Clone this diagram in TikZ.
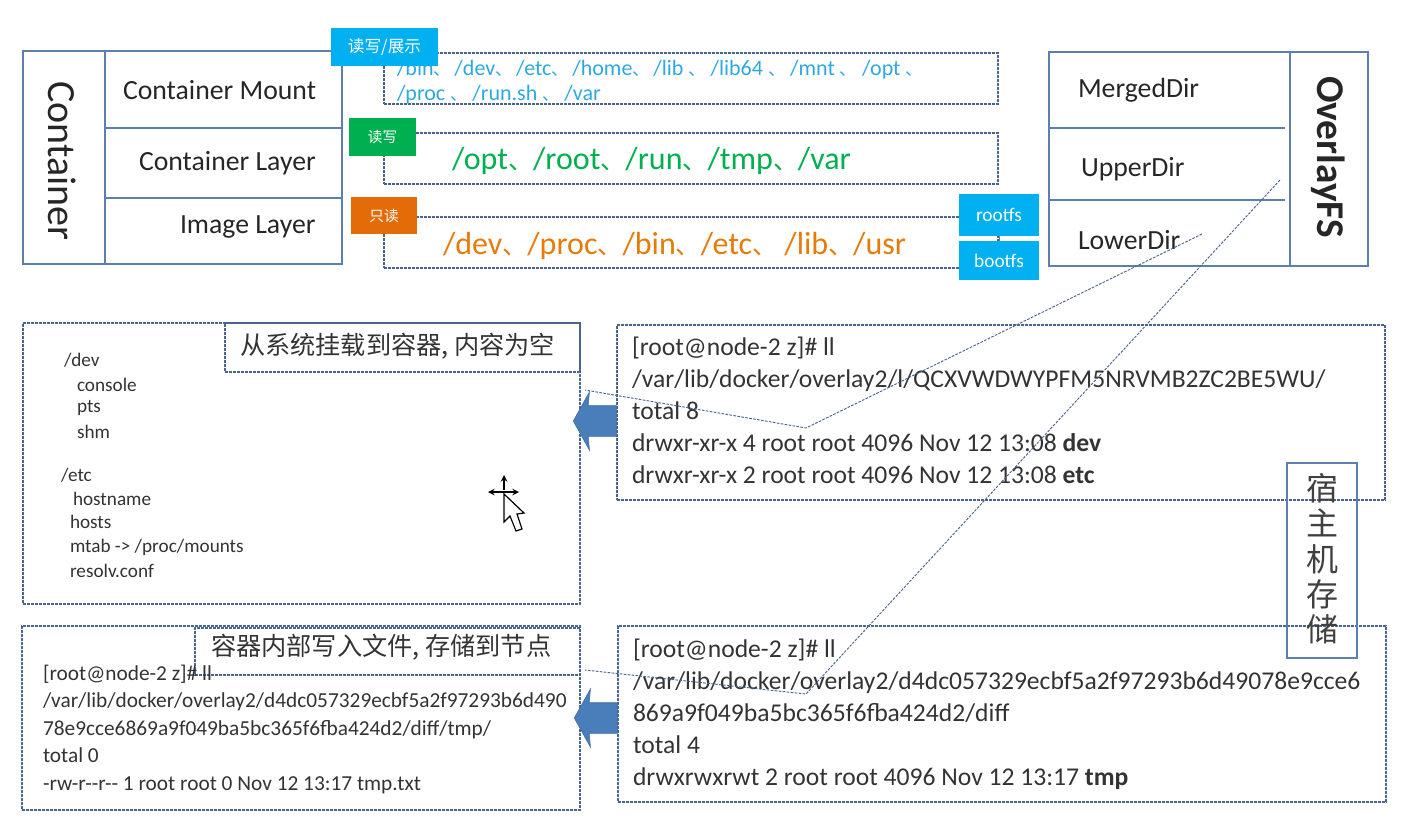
\documentclass[tikz,border=0pt]{standalone}
\usepackage{fontspec}
\setmainfont{Carlito}
\newfontfamily\cjk{Noto Sans CJK SC}
\newfontfamily\cjkmark[Scale=0.78]{Noto Sans CJK SC}
\usetikzlibrary{shapes.arrows}
\newcommand{\dunhao}{{\cjkmark 、}}
\def\px{0.75pt}
\begin{document}
\begin{tikzpicture}[x=0.75pt, y=-0.75pt, every node/.style={inner sep=0pt, outer sep=0pt}]
    \tikzstyle{cell} = [draw=tablecol, line width=1pt, anchor=north west, align=right]
    \tikzstyle{dirname} = [anchor=west, font=\fontsize{20.8pt}{24pt}\selectfont, text=black!85]
    \tikzstyle{dashbox} = [draw=dashcol, dash pattern=on 2pt off 1pt, line width=0.8pt, anchor=north west]
    \tikzstyle{tag} = [anchor=north west, text=white, align=center]
    \tikzstyle{term} = [anchor=north west, align=left, text=black!80, font=\fontsize{19.2pt}{24pt}\selectfont]
    \tikzstyle{small} = [anchor=west, text=black!80, font=\fontsize{14.4pt}{17pt}\selectfont]
    \tikzstyle{caption} = [anchor=west, text=black!80, font=\cjk\fontsize{18.9pt}{22pt}\selectfont]
    \tikzstyle{blockarrow} = [single arrow, fill=arrowcol, draw=arrowcol!85!black, shape border rotate=180, inner ysep=15*\px, inner xsep=0pt, minimum height=43*\px, single arrow head extend=14*\px, single arrow tip angle=122, single arrow head indent=1pt]
    \tikzstyle{link} = [draw=dashcol, dash pattern=on 2pt off 1pt, line width=0.7pt]
    \definecolor{tablecol}{HTML}{5B7FB0}
    \definecolor{dashcol}{HTML}{4A6491}
    \definecolor{arrowcol}{HTML}{4A7EBB}
    \definecolor{bluetag}{HTML}{00B0F0}
    \definecolor{greentag}{HTML}{00B050}
    \definecolor{orangetag}{HTML}{E36C09}
    \definecolor{bluetext}{HTML}{2EA9E0}
    \useasboundingbox (0,0) rectangle (1408,822);

    % container table
    \node [cell, minimum width=82*\px, minimum height=213*\px] (container) at (23,51) {};
    \node [rotate=-90, font=\fontsize{30pt}{34pt}\selectfont, text=black!85] (containerlabel) at (62,161) {Container};
    \node [cell, minimum width=237*\px, minimum height=77*\px] (cmount) at (105,51) {};
    \node [cell, minimum width=237*\px, minimum height=70*\px] (clayer) at (105,128) {};
    \node [cell, minimum width=237*\px, minimum height=66*\px] (cimage) at (105,198) {};
    \node [dirname] (cmounttext) at (123,90) {Container Mount};
    \node [dirname] (clayertext) at (139,163) {Container Layer};
    \node [dirname] (cimagetext) at (180,227) {Image Layer};

    % dashed rows
    \node [dashbox, minimum width=614*\px, minimum height=51*\px] (rowmount) at (384,53) {};
    \node [dashbox, minimum width=614*\px, minimum height=51*\px] (rowlayer) at (384,133) {};
    \node [dashbox, minimum width=614*\px, minimum height=51*\px] (rowimage) at (384,217) {};
    \node [anchor=west, text=bluetext, font=\fontsize{16.5pt}{20pt}\selectfont] (mountline1) at (397,70) {/bin\dunhao\,/dev\dunhao\,/etc\dunhao\,/home\dunhao\,/lib \dunhao\ /lib64 \dunhao\ /mnt \dunhao\ /opt \dunhao};
    \node [anchor=west, text=bluetext, font=\fontsize{16.5pt}{20pt}\selectfont] (mountline2) at (397,95) {/proc \dunhao\ /run.sh \dunhao\ /var};
    \node [anchor=west, text=greentag, font=\fontsize{24pt}{28pt}\selectfont] (layerline) at (452,161) {/opt\dunhao /root\dunhao /run\dunhao /tmp\dunhao /var};
    \node [anchor=west, text=orangetag!90!yellow, font=\fontsize{24pt}{28pt}\selectfont] (imageline) at (443,246) {/dev\dunhao /proc\dunhao /bin\dunhao /etc\dunhao\ /lib\dunhao /usr};

    % coloured tags
    \node [tag, fill=bluetag, minimum width=107*\px, minimum height=38*\px, font=\cjk\fontsize{12.5pt}{15pt}\selectfont] (tagmount) at (331,28) {读写/展示};
    \node [tag, fill=greentag, minimum width=67*\px, minimum height=38*\px, font=\cjk\fontsize{11pt}{14pt}\selectfont] (taglayer) at (349,118) {读写};
    \node [tag, fill=orangetag, minimum width=66*\px, minimum height=37*\px, font=\cjk\fontsize{11pt}{14pt}\selectfont] (tagimage) at (351,197) {只读};
    \node [tag, fill=bluetag, minimum width=80*\px, minimum height=42*\px, font=\fontsize{14.5pt}{17pt}\selectfont] (rootfs) at (959,194) {rootfs};
    \node [tag, fill=bluetag, minimum width=80*\px, minimum height=39*\px, font=\fontsize{14.5pt}{17pt}\selectfont] (bootfs) at (959,241) {bootfs};
    \draw [tablecol] (rootfs) -- (bootfs);

    % overlayfs table
    \node [cell, minimum width=241*\px, minimum height=214*\px] (overlaybody) at (1049,52) {};
    \node [cell, minimum width=78*\px, minimum height=214*\px] (overlay) at (1290,52) {};
    \node [rotate=-90, font=\bfseries\fontsize{29.5pt}{34pt}\selectfont, text=black!85] (overlaylabel) at (1328,157) {OverlayFS};
    \node [anchor=north west, minimum width=236*\px, minimum height=76*\px] (merged) at (1049,52) {};
    \node [anchor=north west, minimum width=236*\px, minimum height=72*\px] (upper) at (1049,128) {};
    \draw [tablecol, line width=1pt] (merged.south west) -- (merged.south east);
    \draw [tablecol, line width=1pt] (upper.south west) -- (upper.south east);
    \node [dirname] (mergedtext) at (1078,90) {MergedDir};
    \node [dirname] (uppertext) at (1081,169) {UpperDir};
    \node [dirname] (lowertext) at (1078,240) {LowerDir};

    % mounted from the system
    \node [dashbox, minimum width=557*\px, minimum height=281*\px] (sysbox) at (23,323) {};
    \node [dashbox, minimum width=355*\px, minimum height=49*\px] (syscaption) at (225,323) {};
    \node [caption] (syscaptiontext) at (240,346) {从系统挂载到容器, 内容为空};
    \node [small] (fdev) at (64,360) {/dev};
    \node [small] (fconsole) at (77,385) {console};
    \node [small] (fpts) at (77,408) {pts};
    \node [small] (fshm) at (77,432) {shm};
    \node [small] (fetc) at (61,475) {/etc};
    \node [small] (fhostname) at (73,499) {hostname};
    \node [small] (fhosts) at (70,522) {hosts};
    \node [small] (fmtab) at (70,547) {mtab -> /proc/mounts};
    \node [small] (fresolv) at (70,571) {resolv.conf};

    % mouse cursor
    \draw [line width=1.2pt, -stealth] (504,490) -- (504,475);
    \draw [line width=1.2pt, -stealth] (504,492) -- (488,492);
    \draw [line width=1.2pt, -stealth] (504,492) -- (519,492);
    \draw [fill=white, line width=0.9pt] (504,494) -- (504,522) -- (510,516) -- (516,531) -- (522,529) -- (517,514) -- (524,513) -- cycle;

    % host directories
    \node [dashbox, minimum width=768*\px, minimum height=175*\px] (hostup) at (617,325) {};
    \node [term] (hostuptext) at (632,337) {[root@node-2 z]\# ll\\/var/lib/docker/overlay2/l/QCXVWDWYPFM5NRVMB2ZC2BE5WU/\\total 8\\drwxr-xr-x 4 root root 4096 Nov 12 13:08 \textbf{dev}\\drwxr-xr-x 2 root root 4096 Nov 12 13:08 \textbf{etc}};
    \node [blockarrow] (arrowup) at (599,421) {};

    % written inside the container
    \node [dashbox, minimum width=558*\px, minimum height=184*\px] (writebox) at (22,626) {};
    \node [dashbox, minimum width=385*\px, minimum height=47*\px] (writecaption) at (195,628) {};
    \node [caption] (writecaptiontext) at (211,647) {容器内部写入文件, 存储到节点};
    \node [term, font=\fontsize{16pt}{20.6pt}\selectfont] (writetext) at (43,665) {[root@node-2 z]\# ll\\/var/lib/docker/overlay2/d4dc057329ecbf5a2f97293b6d490\\78e9cce6869a9f049ba5bc365f6fba424d2/diff/tmp/\\total 0\\-rw-r-{}-r-{}- 1 root root 0 Nov 12 13:17 tmp.txt};
    \node [dashbox, minimum width=768*\px, minimum height=176*\px] (hostdown) at (618,626) {};
    \node [term] (hostdowntext) at (633,639) {[root@node-2 z]\# ll\\/var/lib/docker/overlay2/d4dc057329ecbf5a2f97293b6d49078e9cce6\\869a9f049ba5bc365f6fba424d2/diff\\total 4\\drwxrwxrwt 2 root root 4096 Nov 12 13:17 \textbf{tmp}};
    \node [blockarrow] (arrowdown) at (600,718) {};

    % host storage
    \node [cell, minimum width=70*\px, minimum height=195*\px] (hostbox) at (1287,463) {};
    \node [align=center, text=black!75, font=\cjk\fontsize{24pt}{26.5pt}\selectfont] (hosttext) at (1322,559) {宿\\主\\机\\存\\储};

    % dashed links
    \coordinate (lowerend) at (1202,234);
    \coordinate (lowerbend) at (806,428);
    \coordinate (sysend) at (585,390);
    \coordinate (upperend) at (1280,180);
    \coordinate (upperbend) at (806,694);
    \coordinate (writeend) at (585,670);
    \draw [link] (lowerend) -- (lowerbend) -- (sysend);
    \draw [link] (upperend) -- (upperbend) -- (writeend);
\end{tikzpicture}
\end{document}
